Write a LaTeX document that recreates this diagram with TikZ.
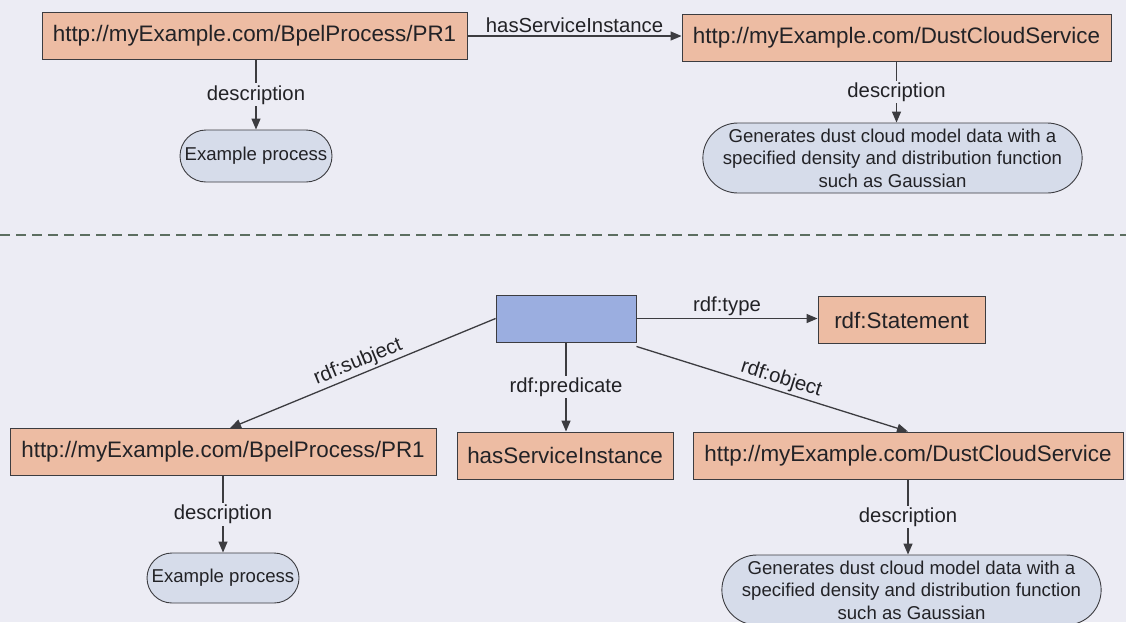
\documentclass[tikz,border=0pt]{standalone}
\usepackage{fontspec}
\setmainfont{Liberation Sans}
\usetikzlibrary{arrows.meta,shapes.misc}

\definecolor{bgcol}{RGB}{236,236,244}
\definecolor{resfill}{RGB}{237,188,163}
\definecolor{stmtfill}{RGB}{155,174,224}
\definecolor{litfill}{RGB}{214,220,234}
\definecolor{edgecol}{RGB}{60,60,64}
\definecolor{txtcol}{RGB}{34,34,38}
\definecolor{sepcol}{RGB}{92,110,96}

\tikzset{
  resource/.style={draw=edgecol, line width=0.9pt, fill=resfill, text=txtcol,
    minimum height=47pt, inner xsep=10pt,
    font=\fontsize{22.4}{26}\selectfont},
  statement/.style={draw=edgecol, line width=0.9pt, fill=stmtfill,
    minimum width=140pt, minimum height=47pt},
  literal/.style={rounded rectangle, draw=edgecol, line width=0.9pt, fill=litfill,
    text=txtcol, align=center, inner xsep=4pt,
    font=\fontsize{18.6}{22.6}\selectfont},
  link/.style={draw=edgecol, line width=1.3pt,
    -{Triangle[length=11pt,width=9pt]}},
  linklabel/.style={text=txtcol, font=\fontsize{20.3}{24}\selectfont},
  onlink/.style={linklabel, fill=bgcol, inner sep=2pt, midway},
}

\begin{document}
\begin{tikzpicture}[x=1pt,y=-1pt]
  \useasboundingbox (0,0) rectangle (1126,622);
  \fill[bgcol] (0,0) rectangle (1126,622);

  % --- plain triple ---
  \node[resource, minimum width=425pt] (proc1) at (254.5,36)
    {http://myExample.com/BpelProcess/PR1};
  \node[resource, minimum width=429pt] (svc1) at (896.5,37.5)
    {http://myExample.com/DustCloudService};
  \node[literal, minimum width=160pt, minimum height=52pt] (ex1) at (256,156)
    {Example process};
  \node[literal, minimum width=355pt, minimum height=70pt] (gen1) at (892.5,158)
    {Generates dust cloud model data with a\\
     specified density and distribution function\\
     such as Gaussian};

  \draw[link] (proc1.east) -- node[linklabel, above, inner sep=3pt] {hasServiceInstance} (svc1.west |- proc1.east);
  \draw[link] (proc1.south -| ex1.north) -- node[onlink] {description} (ex1.north);
  \draw[link] (svc1.south) -- node[onlink] {description} (svc1.south |- gen1.north);

  % --- separator ---
  \coordinate (sepL) at (0,235);
  \coordinate (sepR) at (1126,235);
  \draw[sepcol, line width=2pt, dash pattern=on 10pt off 6pt] (sepL) -- (sepR);

  % --- reified statement ---
  \node[statement] (stmt) at (566,318.5) {};
  \node[resource, minimum width=167pt] (stype) at (901.5,320) {rdf:Statement};
  \node[resource, minimum width=426pt] (proc2) at (223,452)
    {http://myExample.com/BpelProcess/PR1};
  \node[resource, minimum width=216pt] (pred) at (565,455.5) {hasServiceInstance};
  \node[resource, minimum width=430pt] (svc2) at (908,455.5)
    {http://myExample.com/DustCloudService};
  \node[literal, minimum width=160pt, minimum height=50pt] (ex2) at (223,578)
    {Example process};
  \node[literal, minimum width=365pt, minimum height=70pt] (gen2) at (911.5,590)
    {Generates dust cloud model data with a\\
     specified density and distribution function\\
     such as Gaussian};

  \draw[link] (stmt.east) -- node[linklabel, above, inner sep=2pt] {rdf:type} (stype.west |- stmt.east);
  \draw[link] (stmt.west) -- node[linklabel, above, sloped, inner sep=2pt, pos=0.5] {rdf:subject} ([xshift=7pt]proc2.north);
  \draw[link] (stmt.south) -- node[onlink] {rdf:predicate} (stmt.south |- pred.north);
  \draw[link] ([yshift=-4pt]stmt.south east) -- node[linklabel, above, sloped, inner sep=2pt, pos=0.52] {rdf:object} (svc2.north);
  \draw[link] (proc2.south) -- node[onlink] {description} (ex2.north);
  \draw[link] (svc2.south) -- node[onlink] {description} (svc2.south |- gen2.north);
\end{tikzpicture}
\end{document}
